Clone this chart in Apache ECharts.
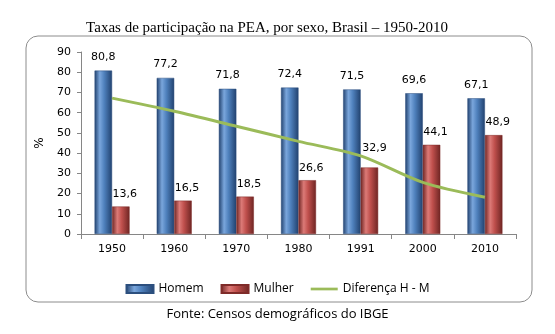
<!DOCTYPE html>
<html><head><meta charset="utf-8">
<script src="https://cdn.jsdelivr.net/npm/echarts@6/dist/echarts.min.js"></script>
<style>html,body{margin:0;padding:0;background:#fff}#c{width:555px;height:334px}</style>
</head><body><div id="c"></div>
<script>
const categories = ['1950','1960','1970','1980','1991','2000','2010'];
const homem = [80.8, 77.2, 71.8, 72.4, 71.5, 69.6, 67.1];
const mulher = [13.6, 16.5, 18.5, 26.6, 32.9, 44.1, 48.9];
const diferenca = [67.2, 60.7, 53.3, 45.8, 38.6, 25.5, 18.2];
const yTicks = [0,10,20,30,40,50,60,70,80,90];

function cyl(dark, mid, light){
  return {type:'linear',x:0,y:0,x2:1,y2:0,colorStops:[
    {offset:0,color:dark},{offset:0.3,color:light},{offset:0.55,color:mid},{offset:1,color:dark}]};
}
const fmt = p => String(p.value).replace('.', ',');
const chart = echarts.init(document.getElementById('c'));
const font = 'DejaVu Sans';
// the 1991 female label is lifted clear of the line, as in the reference
const mulherData = mulher.map((v, i) => i === 4 ? {value: v, label: {offset: [5, -7]}} : v);
chart.setOption({
  animation:false,
  title:{text:'Taxas de participação na PEA, por sexo, Brasil – 1950-2010',left:262,textAlign:'center',top:16,
    textStyle:{fontFamily:'Liberation Serif',fontSize:15,fontWeight:'normal',color:'#000'}},
  graphic:[
    {type:'rect',shape:{x:26,y:36,width:506,height:266,r:12},style:{fill:'none',stroke:'#8c8c8c',lineWidth:1}},
    {type:'text',left:'center',top:308,style:{text:'Fonte: Censos demográficos do IBGE',font:'13px "Open Sans"',fill:'#000'}}
  ],
  legend:{top:278,left:'center',itemWidth:27,itemHeight:8,itemGap:17,
    textStyle:{fontFamily:'Open Sans',fontSize:12,color:'#000'},
    data:[{name:'Homem',icon:'rect'},{name:'Mulher',icon:'rect'},{name:'Diferença H - M',icon:'path://M0,0H30V3H0Z'}]},
  grid:{left:81,right:39,top:52,bottom:100},
  xAxis:{type:'category',data:categories,
    axisLine:{lineStyle:{color:'#868686'}},
    axisTick:{show:true,length:5,lineStyle:{color:'#868686'}},
    axisLabel:{fontFamily:font,fontSize:11,color:'#000',margin:10}},
  yAxis:{type:'value',min:0,max:90,interval:10,name:'%',nameLocation:'middle',nameGap:22,
    nameTextStyle:{fontFamily:font,fontSize:12,color:'#000'},
    axisLine:{show:true,lineStyle:{color:'#868686'}},
    axisTick:{show:true,length:4,lineStyle:{color:'#868686'}},
    splitLine:{show:false},
    axisLabel:{fontFamily:font,fontSize:11,color:'#000',margin:10}},
  series:[
    {name:'Homem',type:'bar',data:homem,barWidth:17.5,barGap:'0%',
     itemStyle:{color:cyl('#21416e','#4f81bd','#7aa6dc'),borderColor:'#2c4f7e',borderWidth:0.5},
     label:{show:true,position:'top',distance:8,formatter:fmt,fontFamily:font,fontSize:11,color:'#000'}},
    {name:'Mulher',type:'bar',data:mulherData,barWidth:17.5,barGap:'0%',
     itemStyle:{color:cyl('#6e2523','#c0504d','#dc7a77'),borderColor:'#7f2b29',borderWidth:0.5},
     label:{show:true,position:'top',distance:7,offset:[4,0],formatter:fmt,fontFamily:font,fontSize:11,color:'#000'}},
    {name:'Diferença H - M',type:'line',data:diferenca,smooth:0.3,symbol:'none',
     lineStyle:{color:'#9bbb59',width:3},itemStyle:{color:'#9bbb59'}}
  ]
});
</script></body></html>
